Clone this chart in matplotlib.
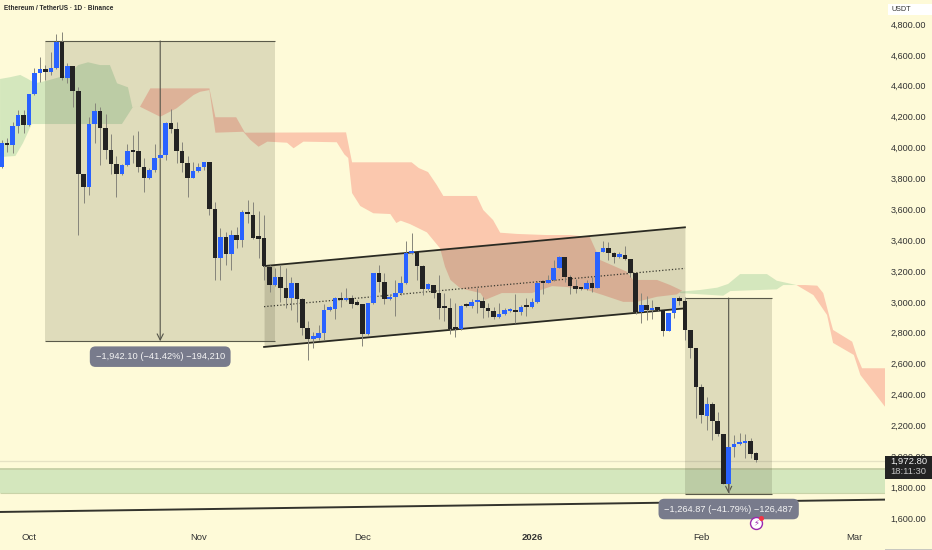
import matplotlib
matplotlib.use('Agg')
import matplotlib.pyplot as plt
from matplotlib.patches import Rectangle

plt.rcParams['font.family'] = ['Liberation Sans', 'DejaVu Sans']

BG = '#FEFAD8'
BLUE = '#2962FF'
BLACK = '#232323'
GREEN_CLOUD = '#D4E7BD'
RED_CLOUD = '#FBC8AE'

# days counted from 1 Oct 2025
first_day = -5
opens = [3872, 4031, 4016, 4142, 4213, 4144, 4347, 4483, 4511, 4487,
         4513, 4686, 4448, 4526, 4368, 3828, 3746, 4152, 4239, 4124,
         3984, 3893, 3828, 3887, 3984, 3977, 3872, 3805, 3854, 3932,
         3952, 4157, 4120, 3977, 3902, 3805, 3846, 3872, 3904, 3602,
         3282, 3420, 3310, 3433, 3399, 3580, 3565, 3416, 3412, 3228,
         3107, 3163, 3090, 3027, 3120, 3021, 2831, 2762, 2766, 2796,
         2950, 2956, 3023, 3012, 3025, 2986, 2986, 2790, 2991, 3185,
         3129, 3017, 3034, 3055, 3120, 3314, 3321, 3235, 3081, 3111,
         3058, 2965, 2958, 2829, 2822, 2975, 2973, 2997, 3004, 2963,
         2943, 2900, 2924, 2941, 2947, 2934, 2969, 2965, 3001, 3131,
         3124, 3142, 3222, 3293, 3163, 3103, 3088, 3083, 3120, 3090,
         3323, 3351, 3314, 3291, 3306, 3280, 3185, 2934, 2978, 2947,
         2954, 2947, 2811, 2926, 3023, 3008, 2818, 2703, 2446, 2263,
         2341, 2228, 2142, 1820, 2058, 2079, 2084, 2097, 2019]
closes = [4031, 4018, 4139, 4213, 4144, 4347, 4483, 4511, 4487, 4513,
          4686, 4448, 4526, 4368, 3828, 3746, 4152, 4239, 4124, 3984,
          3893, 3828, 3887, 3980, 3973, 3872, 3805, 3854, 3932, 3952,
          4157, 4120, 3977, 3902, 3805, 3846, 3872, 3904, 3602, 3282,
          3420, 3310, 3436, 3399, 3580, 3567, 3414, 3410, 3233, 3107,
          3163, 3092, 3027, 3120, 3021, 2831, 2762, 2766, 2796, 2950,
          2956, 3023, 3012, 3027, 2986, 2982, 2794, 2991, 3185, 3129,
          3019, 3034, 3055, 3120, 3314, 3323, 3235, 3083, 3114, 3060,
          2963, 2960, 2827, 2822, 2973, 2971, 2999, 3006, 2963, 2943,
          2900, 2924, 2945, 2947, 2932, 2969, 2965, 3001, 3124, 3124,
          3142, 3222, 3293, 3163, 3105, 3083, 3083, 3120, 3090, 3321,
          3351, 3314, 3291, 3308, 3280, 3185, 2934, 2980, 2945, 2954,
          2950, 2811, 2926, 3023, 3008, 2818, 2703, 2446, 2267, 2338,
          2228, 2142, 1820, 2058, 2079, 2086, 2097, 2015, 1973]
highs = [4049, 4060, 4167, 4243, 4243, 4347, 4513, 4588, 4534, 4621,
         4733, 4750, 4545, 4526, 4390, 3828, 4200, 4286, 4260, 4217,
         4085, 3945, 3893, 4023, 4081, 4109, 3930, 3865, 4023, 3995,
         4167, 4250, 4167, 4034, 3945, 3904, 3898, 3904, 3908, 3649,
         3477, 3451, 3466, 3487, 3595, 3660, 3649, 3591, 3563, 3239,
         3217, 3239, 3217, 3159, 3120, 3023, 2878, 2807, 2850, 2986,
         2973, 3034, 3062, 3088, 3045, 3012, 2986, 2991, 3185, 3237,
         3189, 3045, 3142, 3168, 3396, 3444, 3325, 3239, 3120, 3111,
         3174, 3055, 3023, 2991, 2978, 2991, 3016, 3088, 3029, 2991,
         2965, 2991, 2958, 2958, 3051, 2980, 3023, 3023, 3135, 3131,
         3174, 3271, 3297, 3293, 3174, 3146, 3094, 3142, 3163, 3325,
         3396, 3386, 3325, 3325, 3364, 3280, 3185, 3055, 3038, 3012,
         2969, 2947, 2926, 3023, 3040, 3030, 2818, 2703, 2468, 2386,
         2354, 2289, 2142, 2062, 2138, 2148, 2144, 2116, 2030]
lows = [3865, 3973, 3967, 4092, 4092, 4139, 4340, 4427, 4437, 4470,
        4509, 4437, 4416, 4265, 3433, 3639, 3692, 4027, 3887, 3923,
        3828, 3677, 3822, 3882, 3898, 3844, 3710, 3796, 3844, 3923,
        3919, 4092, 3898, 3839, 3677, 3800, 3841, 3854, 3563, 3142,
        3142, 3239, 3207, 3347, 3358, 3509, 3410, 3282, 3142, 3066,
        3103, 3001, 2958, 2947, 2872, 2786, 2624, 2703, 2753, 2753,
        2943, 2887, 2969, 3008, 2958, 2978, 2714, 2785, 2986, 3064,
        2986, 3012, 2909, 3045, 3116, 3310, 3142, 3045, 3077, 3023,
        2889, 2878, 2790, 2770, 2820, 2965, 2958, 2926, 2893, 2904,
        2887, 2893, 2915, 2937, 2861, 2915, 2909, 2958, 2995, 3049,
        3120, 3135, 3217, 3131, 3051, 3055, 3077, 3077, 3066, 3088,
        3321, 3271, 3254, 3282, 3271, 3159, 2922, 2861, 2883, 2887,
        2943, 2781, 2811, 2893, 2980, 2753, 2634, 2246, 2218, 2170,
        2105, 2131, 1820, 1760, 1997, 2073, 1988, 1986, 1965]

# ichimoku cloud outlines
green1_top_x = [-5.3, -3.5, -1.6, -0.2, 1.1, 3.3, 7.0, 9.0, 10.8, 13.0, 14.8, 16.1, 18.1, 18.9, 20.3]
green1_top_y = [4444, 4455, 4470, 4444, 4416, 4433, 4470, 4534, 4552, 4534, 4534, 4416, 4390, 4262, 4264]
green1_bot_x = [-5.3, -2.5, -1.1, 0.5, 17.0, 19.0, 20.3]
green1_bot_y = [3938, 3945, 4029, 4152, 4152, 4262, 4264]

red1_top_x = [20.3, 22.2, 33.0, 34.1, 37.9, 39.5, 58.0, 59.1, 70.0, 71.3, 73.0, 74.6, 75.8, 81.9, 83.1,
              84.9, 86.2, 89.3, 94.6, 99.0, 102.6, 104.5, 109.4, 110.5, 114.9, 117.3, 119.5]
red1_top_y = [4264, 4383, 4383, 4196, 4196, 4096, 4098, 3904, 3904, 3867, 3841, 3757, 3686, 3686, 3595,
              3530, 3448, 3440, 3433, 3433, 3420, 3271, 3195, 3142, 3142, 3109, 3072]
red1_bot_x = [20.3, 24.0, 27.0, 30.1, 31.3, 33.0, 34.1, 39.2, 40.5, 42.0, 43.6, 47.2, 48.4, 50.2, 56.3, 57.7,
              58.4, 59.1, 60.6, 63.0, 66.1, 67.2, 68.0, 69.7, 72.8, 75.2, 76.1, 77.1, 78.9, 82.6, 83.4, 86.5,
              92.0, 95.7, 98.4, 102.1, 105.0, 108.7, 111.2, 114.9, 118.5, 119.5]
red1_bot_y = [4264, 4199, 4254, 4340, 4361, 4372, 4096, 4102, 4049, 4005, 4038, 4031, 3995, 4038, 4034, 3955,
              3932, 3705, 3621, 3574, 3569, 3511, 3526, 3504, 3450, 3347, 3228, 3142, 3088, 3057, 3012, 3057,
              3057, 3102, 3096, 3077, 3044, 3000, 3000, 3033, 3048, 3072]

green2_top_x = [119.1, 122.8, 125.9, 127.9, 130.1, 135.0, 136.8, 140.4]
green2_top_y = [3066, 3077, 3092, 3116, 3180, 3180, 3137, 3109]
green2_bot_x = [119.1, 127.0, 128.3, 136.8, 138.0, 140.4]
green2_bot_y = [3057, 3040, 3070, 3081, 3109, 3109]

red2_top_x = [140.4, 142.0, 144.2, 145.3, 146.6, 147.1, 150.6, 151.5, 152.4, 156.6]
red2_top_y = [3109, 3109, 3105, 3057, 2882, 2818, 2742, 2645, 2570, 2570]
red2_bot_x = [140.4, 143.5, 146.0, 147.1, 150.9, 152.1, 156.6]
red2_bot_y = [3109, 3044, 2915, 2734, 2656, 2526, 2321]

# drawings
range1_days = [3, 45]
range1_prices = [4690, 2745]
range2_days = [120, 136]
range2_prices = [3025, 1758]
channel_days = [43, 120]
channel_upper = [3232, 3483]
channel_lower = [2708, 2958]
channel_mid = [2969, 3217]
zone_prices = [1765, 1917]
trend_days = [-5.3, 156.6]
trend_prices = [1639, 1719]
last_price = 1972.80

month_days = [0, 31, 61, 92, 123, 151]
month_labels = ['Oct', 'Nov', 'Dec', '2026', 'Feb', 'Mar']
price_ticks = [1600, 1800, 2000, 2200, 2400, 2600, 2800, 3000, 3200, 3400, 3600, 3800, 4000, 4200, 4400, 4600, 4800]


def draw_cloud(ax, top_x, top_y, bot_x, bot_y, color):
    ax.fill(top_x + bot_x[::-1], top_y + bot_y[::-1], color=color, lw=0, zorder=1)


def draw_range(ax, days, prices, label, label_price):
    (left, right) = days
    (top, bottom) = prices
    mid = (left + right) / 2
    ax.add_patch(Rectangle((left, bottom), right - left, top - bottom, fc='#4A4A30', alpha=0.17, lw=0, zorder=2))
    ax.hlines([top, bottom], left, right, color='#5A5A4A', lw=0.8, zorder=2.5)
    ax.annotate('', xy=(mid, bottom), xytext=(mid, top), zorder=2.5,
                arrowprops=dict(arrowstyle='->', color='#55554A', lw=0.8, shrinkA=0, shrinkB=0, mutation_scale=11))
    ax.text(mid, label_price, label, ha='center', va='center', fontsize=6.7, color='#F4F4F4', zorder=7,
            bbox=dict(boxstyle='round,pad=0.62', fc='#787B8C', ec='none'))


(fig, ax) = plt.subplots(figsize=(9.32, 5.5), dpi=100)
fig.patch.set_facecolor(BG)
ax.set_position([0, 0, 885 / 932, 1])
ax.set_facecolor(BG)
ax.set_xlim(-5.31, 156.6)
ax.set_ylim(1392.6, 4955.5)
for spine in ax.spines.values():
    spine.set_visible(False)

draw_cloud(ax, green1_top_x, green1_top_y, green1_bot_x, green1_bot_y, GREEN_CLOUD)
draw_cloud(ax, red1_top_x, red1_top_y, red1_bot_x, red1_bot_y, RED_CLOUD)
draw_cloud(ax, green2_top_x, green2_top_y, green2_bot_x, green2_bot_y, GREEN_CLOUD)
draw_cloud(ax, red2_top_x, red2_top_y, red2_bot_x, red2_bot_y, RED_CLOUD)

# support zone and last price line
ax.axhspan(zone_prices[0], zone_prices[1], fc=GREEN_CLOUD, ec='none', zorder=1)
ax.hlines(zone_prices[1], -5.31, 156.6, color='#C6CFA6', lw=1.3, zorder=1.1)
ax.hlines(zone_prices[0], -5.31, 156.6, color='#C9D3A8', lw=0.8, zorder=1.1)
ax.axhline(last_price - 5, color='#E6E2C4', lw=0.9, zorder=1)

draw_range(ax, range1_days, range1_prices, '\u22121,942.10 (\u221241.42%) \u2212194,210', 2645)
draw_range(ax, range2_days, range2_prices, '\u22121,264.87 (\u221241.79%) \u2212126,487', 1658)

# channel
ax.fill_between(channel_days, channel_lower, channel_upper, color='#4A4A30', alpha=0.2, lw=0, zorder=2)
ax.plot(channel_days, channel_upper, color='#2A2A22', lw=1.3, zorder=3)
ax.plot(channel_days, channel_lower, color='#2A2A22', lw=1.3, zorder=3)
ax.plot(channel_days, channel_mid, color='#3A3A30', lw=0.9, ls=(0, (1, 1.6)), zorder=3)

ax.plot(trend_days, trend_prices, color='#33332C', lw=1.4, zorder=3)

# candles
days = list(range(first_day, first_day + len(opens)))
candle_colors = [BLUE if c >= o else BLACK for (o, c) in zip(opens, closes)]
ax.vlines(days, lows, highs, color='#86857A', lw=0.7, zorder=4)
body_bottoms = [min(o, c) for (o, c) in zip(opens, closes)]
body_heights = [max(abs(c - o), 14) for (o, c) in zip(opens, closes)]
ax.bar(days, body_heights, bottom=body_bottoms, width=0.84, color=candle_colors, lw=0, zorder=5)

# marker under the last candles
ax.plot([133], [1569], marker='o', ms=8.6, mfc='#FFFFFF', mec='#9C27B0', mew=1, zorder=8)
ax.text(133, 1569, '\u26A1', fontsize=6, color='#9C27B0', ha='center', va='center', family=['DejaVu Sans'], zorder=9)
ax.plot([134], [1601], marker='o', ms=2.6, color='#F23645', zorder=9)

ax.set_xticks(month_days)
ax.set_xticklabels(month_labels)
ax.tick_params(axis='x', length=0, pad=-12, labelsize=6.8, labelcolor='#333333')
ax.get_xticklabels()[3].set_fontweight('bold')
ax.yaxis.tick_right()
ax.set_yticks(price_ticks)
ax.set_yticklabels([f'{p:,.2f}' for p in price_ticks])
ax.tick_params(axis='y', length=0, pad=4, labelsize=6.6, labelcolor='#333333')

fig.text(4 / 932, 1 - 9 / 550, 'Ethereum / TetherUS \u00b7 1D \u00b7 Binance', fontsize=4.7, fontweight='bold',
         color='#2A2A2A', va='center')

# price scale bits
fig.add_artist(Rectangle((888 / 932, 1 - 15 / 550), 44 / 932, 11 / 550, fc='#FFFFFF', ec='none', zorder=5))
fig.text(892 / 932, 1 - 9.5 / 550, 'USDT', fontsize=5.2, color='#333333', va='center', zorder=6)
fig.add_artist(Rectangle((885 / 932, 1 - 478.5 / 550), 47 / 932, 23 / 550, fc='#232323', ec='none', zorder=5))
fig.text(908.5 / 932, 1 - 461 / 550, f'{last_price:,.2f}', fontsize=6.8, color='#F0F0F0', ha='center', va='center', zorder=6)
fig.text(908.5 / 932, 1 - 471.5 / 550, '18:11:30', fontsize=6.8, color='#C4C4C4', ha='center', va='center', zorder=6)
fig.add_artist(Rectangle((885 / 932, 0), 47 / 932, 1 / 550, fc='#C8C8C0', ec='none', zorder=5))

fig.savefig('out.png', dpi=100, facecolor=fig.get_facecolor())
plt.close()
